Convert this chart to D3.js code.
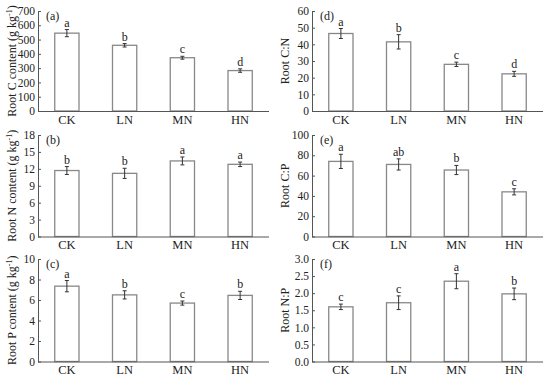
<!DOCTYPE html>
<html>
<head>
<meta charset="utf-8">
<script src="https://cdn.jsdelivr.net/npm/d3@7"></script>
<style>
  body { margin: 0; background: #fff; }
  svg { font-family: "Liberation Serif", "Times New Roman", serif; }
  .axis path, .axis line { stroke: #555; }
  .axis text { fill: #222; font-size: 11.5px; }
</style>
</head>
<body>
<script>
var treatments = ["CK", "LN", "MN", "HN"];

var rootC = [545, 460, 373, 283];
var rootCErr = [25, 12, 10, 12];
var rootCSig = ["a", "b", "c", "d"];

var rootN = [11.7, 11.2, 13.4, 12.8];
var rootNErr = [0.7, 0.9, 0.7, 0.4];
var rootNSig = ["b", "b", "a", "a"];

var rootP = [7.35, 6.5, 5.7, 6.45];
var rootPErr = [0.55, 0.4, 0.2, 0.4];
var rootPSig = ["a", "b", "c", "b"];

var rootCN = [46.5, 41.5, 28, 22.3];
var rootCNErr = [3, 4.3, 1.3, 1.5];
var rootCNSig = ["a", "b", "c", "d"];

var rootCP = [74, 71, 65.5, 44];
var rootCPErr = [7, 5.5, 4.5, 3];
var rootCPSig = ["a", "ab", "b", "c"];

var rootNP = [1.6, 1.72, 2.35, 1.98];
var rootNPErr = [0.08, 0.2, 0.22, 0.17];
var rootNPSig = ["c", "c", "a", "b"];

var panels = [
  {tag: "(a)", label: "Root C content (g kg", unit: true, vals: rootC, err: rootCErr, sig: rootCSig, max: 700, ticks: d3.range(0, 701, 100), fmt: d3.format("d"), col: 0, row: 0},
  {tag: "(b)", label: "Root N content (g kg", unit: true, vals: rootN, err: rootNErr, sig: rootNSig, max: 18, ticks: d3.range(0, 19, 3), fmt: d3.format("d"), col: 0, row: 1},
  {tag: "(c)", label: "Root P content (g kg", unit: true, vals: rootP, err: rootPErr, sig: rootPSig, max: 10, ticks: d3.range(0, 11, 2), fmt: d3.format("d"), col: 0, row: 2},
  {tag: "(d)", label: "Root C:N", unit: false, vals: rootCN, err: rootCNErr, sig: rootCNSig, max: 60, ticks: d3.range(0, 61, 10), fmt: d3.format("d"), col: 1, row: 0},
  {tag: "(e)", label: "Root C:P", unit: false, vals: rootCP, err: rootCPErr, sig: rootCPSig, max: 100, ticks: d3.range(0, 101, 20), fmt: d3.format("d"), col: 1, row: 1},
  {tag: "(f)", label: "Root N:P", unit: false, vals: rootNP, err: rootNPErr, sig: rootNPSig, max: 3, ticks: [0, 0.5, 1, 1.5, 2, 2.5, 3], fmt: d3.format(".1f"), col: 1, row: 2}
];

var colLeft = [38, 312],
    plotW = 231,
    rowTop = [11, 135, 259],
    rowH = [100, 101.5, 102.5],
    labelX = [12, 285];

var svg = d3.select("body").append("svg")
    .attr("width", 550)
    .attr("height", 377);

panels.forEach(function(p) {
  var h = rowH[p.row];
  var g = svg.append("g")
      .attr("transform", "translate(" + colLeft[p.col] + "," + rowTop[p.row] + ")");

  var x = d3.scaleBand().domain(treatments).range([0, plotW]).paddingInner(0.58).paddingOuter(0.29);
  var y = d3.scaleLinear().domain([0, p.max]).range([h, 0]);

  // bars
  g.selectAll("rect.bar")
      .data(p.vals)
    .enter().append("rect")
      .attr("class", "bar")
      .attr("x", function(d, i) { return x(treatments[i]); })
      .attr("y", function(d) { return y(d); })
      .attr("width", x.bandwidth())
      .attr("height", function(d) { return h - y(d); })
      .attr("fill", "#fff")
      .attr("stroke", "#888")
      .attr("stroke-width", 1.3);

  // error bars
  var eb = g.selectAll("g.err")
      .data(p.vals)
    .enter().append("g")
      .attr("class", "err")
      .attr("transform", function(d, i) { return "translate(" + (x(treatments[i]) + x.bandwidth() / 2) + ",0)"; });
  eb.append("line")
      .attr("y1", function(d, i) { return y(d - p.err[i]); })
      .attr("y2", function(d, i) { return y(d + p.err[i]); })
      .attr("stroke", "#333");
  eb.append("line")
      .attr("x1", -2).attr("x2", 2)
      .attr("y1", function(d, i) { return y(d + p.err[i]); })
      .attr("y2", function(d, i) { return y(d + p.err[i]); })
      .attr("stroke", "#333");
  eb.append("line")
      .attr("x1", -2).attr("x2", 2)
      .attr("y1", function(d, i) { return y(d - p.err[i]); })
      .attr("y2", function(d, i) { return y(d - p.err[i]); })
      .attr("stroke", "#333");
  eb.append("text")
      .attr("y", function(d, i) { return y(d + p.err[i]) - 3; })
      .attr("text-anchor", "middle")
      .style("font-size", "12px")
      .attr("fill", "#222")
      .text(function(d, i) { return p.sig[i]; });

  // axes
  g.append("g")
      .attr("class", "axis")
      .call(d3.axisLeft(y).tickValues(p.ticks).tickFormat(p.fmt).tickSizeInner(-3).tickSizeOuter(0).tickPadding(3))
      .attr("font-family", null);

  var xa = g.append("g")
      .attr("class", "axis")
      .attr("transform", "translate(0," + h + ")")
      .call(d3.axisBottom(x).tickSize(0).tickPadding(4))
      .attr("font-family", null);
  xa.select(".domain").attr("d", "M0,0.5H" + plotW);
  xa.selectAll("text").style("font-size", "12.5px");

  g.append("text")
      .attr("x", 8)
      .attr("y", 9)
      .style("font-size", "12px")
      .attr("fill", "#222")
      .text(p.tag);

  // y label
  var lab = svg.append("text")
      .attr("transform", "translate(" + labelX[p.col] + "," + (rowTop[p.row] + h / 2) + ") rotate(-90)")
      .attr("text-anchor", "middle")
      .attr("dy", "0.35em")
      .style("font-size", "12px")
      .attr("fill", "#222")
      .text(p.label);
  if (p.unit) {
    lab.append("tspan").attr("dy", "-4").style("font-size", "8px").text("-1");
    lab.append("tspan").attr("dy", "4").text(")");
  }
});
</script>
</body>
</html>
